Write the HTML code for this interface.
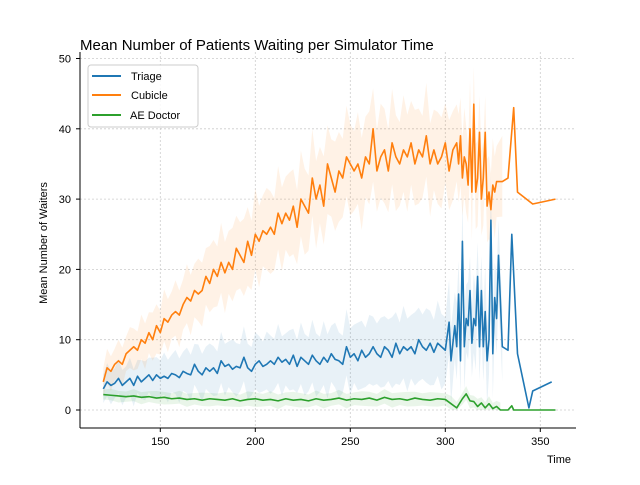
<!DOCTYPE html>
<html><head><meta charset="utf-8">
<style>
body{margin:0;background:#fff;}
svg text{font-family:"Liberation Sans",sans-serif;fill:#000;}
</style></head>
<body>
<svg id="chart" width="640" height="480" viewBox="0 0 640 480">
<rect width="640" height="480" fill="#fff"/>
<g id="grid"></g>
<g id="bands"></g>
<g id="lines"></g>
<g id="axes"></g>
<text x="80" y="50" font-size="15">Mean Number of Patients Waiting per Simulator Time</text>
<text x="547" y="463" font-size="11">Time</text>
<text transform="translate(47,243) rotate(-90)" text-anchor="middle" font-size="11">Mean Number of Waiters</text>
<g>
<rect x="88" y="65" width="110" height="62" rx="3" fill="#fff" fill-opacity="0.85" stroke="#ccc"/>
<line x1="92" y1="76" x2="121" y2="76" stroke="#1f77b4" stroke-width="2"/>
<text x="131" y="80" font-size="11">Triage</text>
<line x1="92" y1="95" x2="121" y2="95" stroke="#ff7f0e" stroke-width="2"/>
<text x="131" y="99" font-size="11">Cubicle</text>
<line x1="92" y1="115" x2="121" y2="115" stroke="#2ca02c" stroke-width="2"/>
<text x="130" y="119" font-size="11">AE Doctor</text>
</g>
</svg>
<script>
const xTicks=[150,200,250,300,350];
const yTicks=[0,10,20,30,40,50];
const cubT=[120,122,124,126,128,130,132,134,136,138,140,142,144,146,148,150,152,154,156,158,160,162,164,166,168,170,172,174,176,178,180,182,184,186,188,190,192,194,196,198,200,202,204,206,208,210,212,214,216,218,220,222,224,226,228,230,232,234,236,238,240,242,244,246,248,250,252,254,256,258,260,262,264,266,268,270,272,274,276,278,280,282,284,286,288,290,292,294,296,298,300,302,304,306,307,308,309,310,311,312,313,314,315,316,317,318,319,320,321,322,323,324,325,326,327,330,333,336,338,346,358];
const cubV=[4,6,5.5,6.5,7,6.5,8,8.5,9,8.5,10,9.5,11,10,12,11,13,12.5,13.5,14,13.5,15,16,15.5,17,16.5,17,19,18,20,19,21,19.5,21,20,23,22,21,24,22,25,24,25.5,25,26,25,28,26.5,28,27,29,26,30,29,28,33,30,32,29,35,33,31,34,33,36,35,34,35,33,36,35,40,34,36,37,34,38,36,35,37,36,38,35,37,36,39,35,37,35,36,38,34,37,38,35,39,33,36,35,32,40,31,43.5,31,33,39.5,30,33,39.5,29,31,28.5,32,31,32.5,32.5,33,43,31,29.3,30];
const triT=[120,122,124,126,128,130,132,134,136,138,140,142,144,146,148,150,152,154,156,158,160,162,164,166,168,170,172,174,176,178,180,182,184,186,188,190,192,194,196,198,200,202,204,206,208,210,212,214,216,218,220,222,224,226,228,230,232,234,236,238,240,242,244,246,248,250,252,254,256,258,260,262,264,266,268,270,272,274,276,278,280,282,284,286,288,290,292,294,296,298,300,302,303,305,306,307,308,309,310,311,312,313,314,315,316,317,318,319,320,321,322,323,324,325,326,327,328,330,333,335,338,344,346,356];
const triV=[3,4,3.5,3.8,4.5,3.5,4,4.5,3.5,4.8,4,4.5,5,4.2,5,4.5,4.8,4.5,5.2,5,4.6,5.5,5.2,5,6.5,5.5,5,6,5.5,6,5.2,7,6.2,6.5,5.8,6.2,6,7.5,6,5.5,6.5,7,6.2,6.5,7,6.5,7.5,6.8,7.2,6.5,7.8,6.2,7.5,7,6.5,7.8,7,6.5,7.5,6.8,8,7.2,7,6.5,9,7.5,8,7,8.5,7.5,8,9,8,7.5,9,8.5,7.5,9.5,8,9,8.5,9,8,10,9,8.5,9.5,8.2,9.5,9,8.5,12.5,7,12,9,16.5,7,24,9,13,12,17,9.5,13,12,19,9,17,9,14,7,10,27,8,16,13,22,9,8.5,25,8,0.3,2.7,4];
const docT=[120,124,128,132,136,140,144,148,152,156,160,164,168,172,176,180,184,188,192,196,200,204,208,212,216,220,224,228,232,236,240,244,248,252,256,260,264,268,272,276,280,284,288,292,296,300,303,306,309,311,313,315,317,319,321,323,325,327,329,331,333,335,336,338,346,358];
const docV=[2.2,2.1,2,1.9,2,1.8,1.9,1.7,1.8,1.6,1.7,1.5,1.6,1.4,1.6,1.5,1.4,1.6,1.3,1.5,1.6,1.4,1.5,1.3,1.6,1.4,1.5,1.3,1.6,1.4,1.5,1.7,1.4,1.6,1.5,1.7,1.4,1.8,1.5,1.6,1.4,1.7,1.5,1.4,1.6,1.5,0.9,0.3,1.6,2.3,1.3,1.2,0.5,1,0.3,0.9,0.2,0.5,0,0,0,0.6,0,0,0,0];
const bandKnots=[120,200,280,330];
const cubSpread=[2,5,6,5];
const triSpread=[2,3.5,4.5,5];
const docSpread=[0.7,0.9,0.9,0.8];
const bandEnd=330;

const X=t=>160.3+(t-150)*1.9;
const Y=v=>410-7.03*v;
const NS="http://www.w3.org/2000/svg";
function mk(tag,attrs,parent){const e=document.createElementNS(NS,tag);for(const k in attrs)e.setAttribute(k,attrs[k]);document.getElementById(parent).appendChild(e);return e;}
function spreadAt(arr,t){for(let i=0;i<bandKnots.length-1;i++){if(t<=bandKnots[i+1]){const f=(t-bandKnots[i])/(bandKnots[i+1]-bandKnots[i]);return arr[i]+f*(arr[i+1]-arr[i]);}}return arr[arr.length-1];}

xTicks.forEach(t=>{
 const g=mk('line',{x1:X(t),x2:X(t),y1:52,y2:428,stroke:'#ccc','stroke-dasharray':'2,2','stroke-width':0.8},'grid');
 
 
 const tk=mk('line',{x1:X(t),x2:X(t),y1:428,y2:432,stroke:'#000'},'axes');
 
 
 const lb=mk('text',{x:X(t),y:445,'text-anchor':'middle','font-size':11},'axes');
 lb.textContent=t;
 
 
});
yTicks.forEach(v=>{
 const g=mk('line',{x1:80,x2:576,y1:Y(v),y2:Y(v),stroke:'#ccc','stroke-dasharray':'2,2','stroke-width':0.8},'grid');
 
 
 const tk=mk('line',{x1:76,x2:80,y1:Y(v),y2:Y(v),stroke:'#000'},'axes');
 
 
 const lb=mk('text',{x:71,y:Y(v)+4,'text-anchor':'end','font-size':11},'axes');
 lb.textContent=v;
 
 
});
const sp1=mk('line',{x1:80,x2:80,y1:52,y2:428,stroke:'#000'},'axes');


const sp2=mk('line',{x1:80,x2:576,y1:428,y2:428,stroke:'#000'},'axes');



function series(T,V,spread,color,name){
 const idx=T.map((t,i)=>i).filter(i=>T[i]<=bandEnd);
 const up=idx.map(i=>X(T[i])+','+Y(V[i]+spreadAt(spread,T[i])*(i%3===1?1.3:1)));
 const lo=idx.map(i=>X(T[i])+','+Y(Math.max(0,V[i]-spreadAt(spread,T[i])*(i%3===2?1.3:1)))).reverse();
 const b=mk('polygon',{points:up.concat(lo).join(' '),fill:color,'fill-opacity':0.1,stroke:'none'},'bands');
 
 
 const l=mk('polyline',{points:T.map((t,i)=>X(t)+','+Y(V[i])).join(' '),fill:'none',stroke:color,'stroke-width':1.6,'stroke-linejoin':'round'},'lines');
 
 
}
series(cubT,cubV,cubSpread,'#ff7f0e','cubicle');
series(triT,triV,triSpread,'#1f77b4','triage');
series(docT,docV,docSpread,'#2ca02c','ae-doctor');
</script>
</body></html>
